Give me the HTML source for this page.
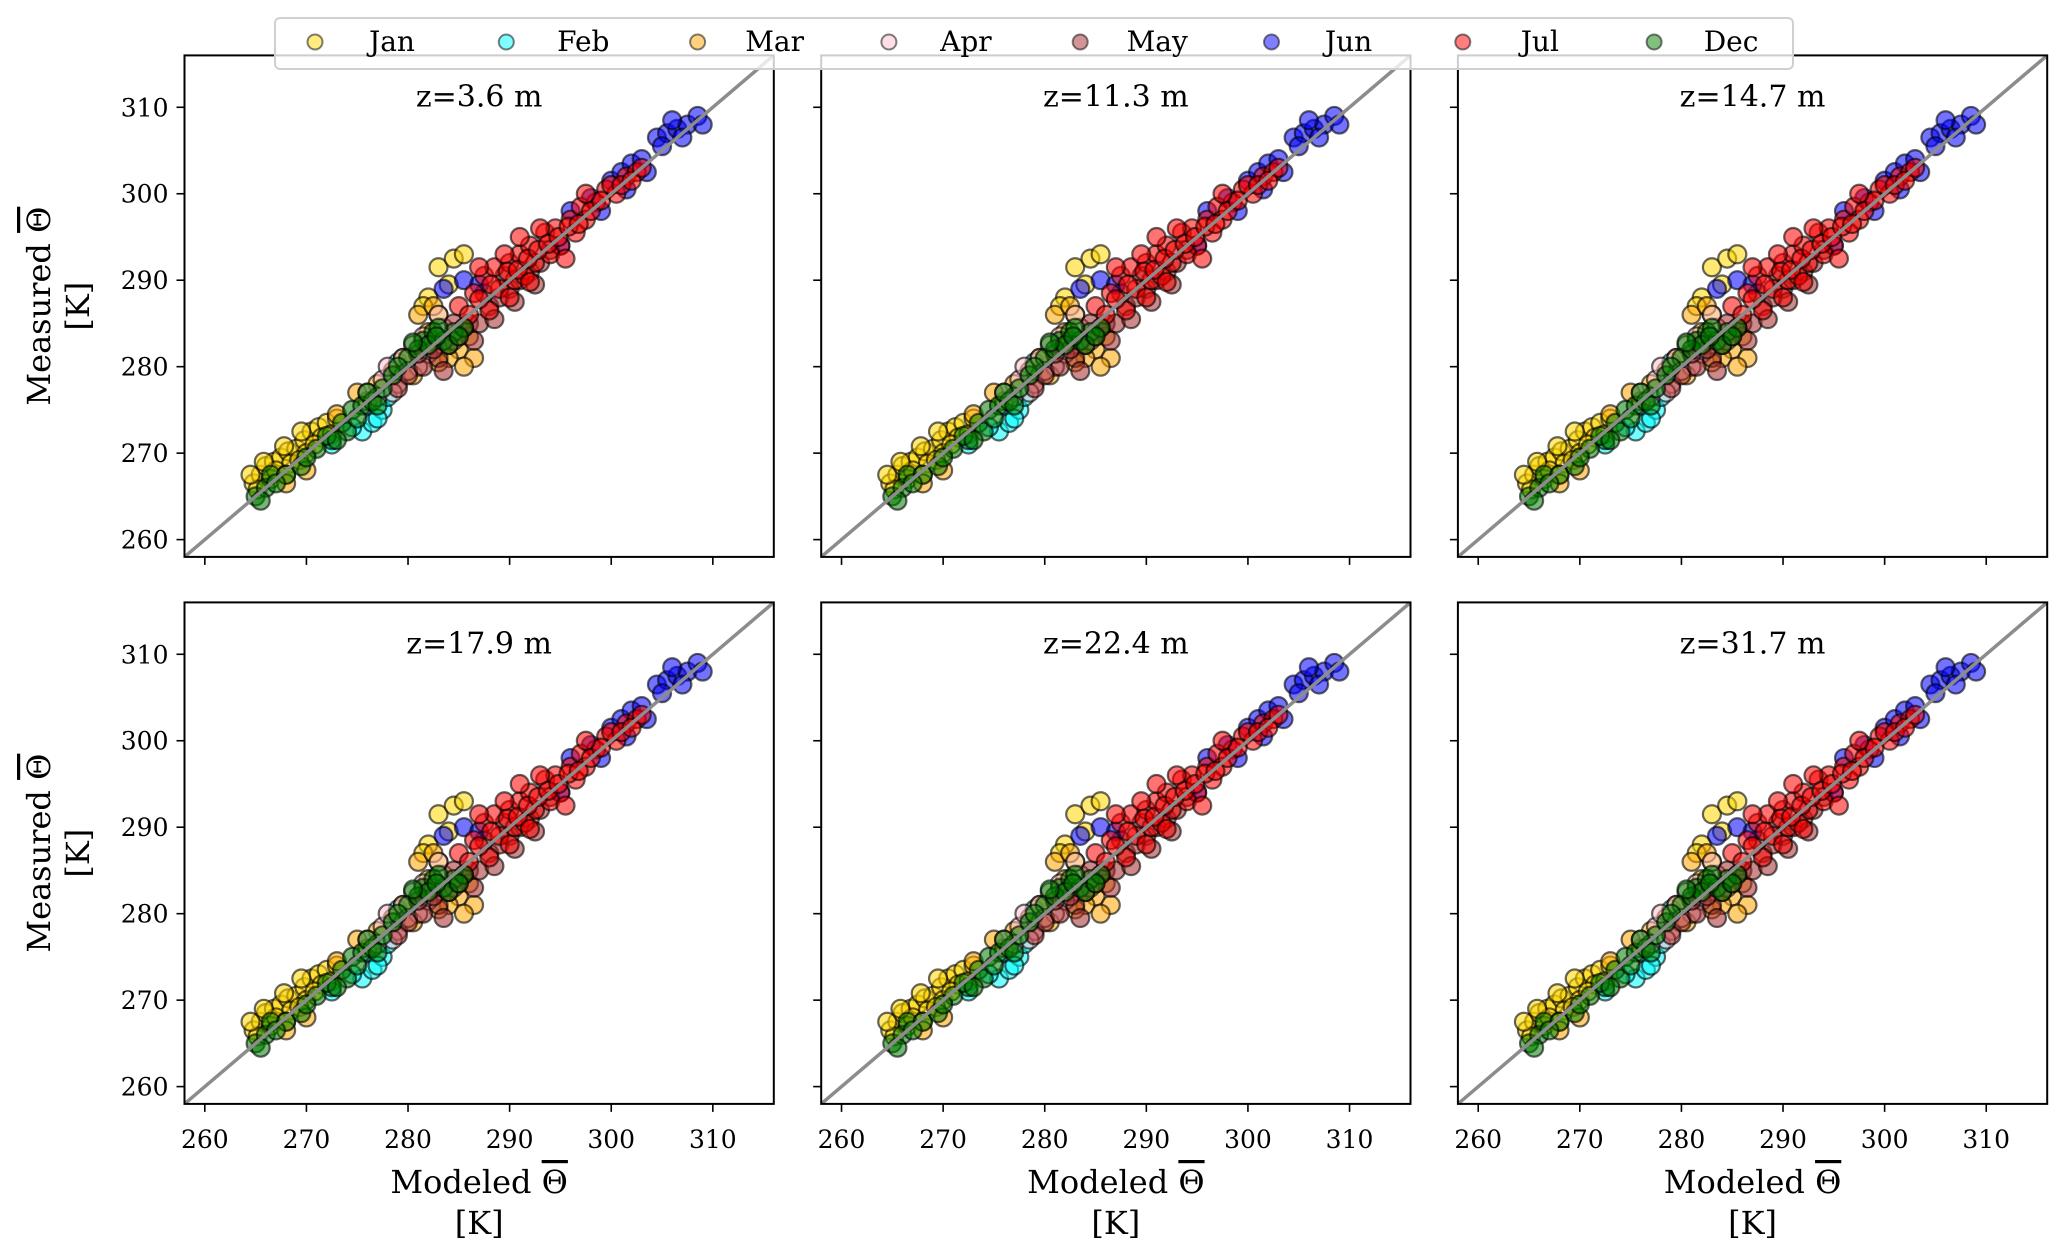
<!DOCTYPE html>
<html><head><meta charset="utf-8"><style>
html,body{margin:0;padding:0;background:#fff;}
svg{display:block;font-family:"DejaVu Serif","Liberation Serif",serif;}
</style></head><body>
<svg id="chart" width="2067" height="1257" viewBox="0 0 2067 1257"></svg>
<script>
const months = ["Jan","Feb","Mar","Apr","May","Jun","Jul","Dec"];
const monthColors = ["gold","cyan","orange","pink","brown","blue","red","green"];
const panelTitles = ["z=3.6 m","z=11.3 m","z=14.7 m","z=17.9 m","z=22.4 m","z=31.7 m"];
const tickValues = [260,270,280,290,300,310];
const axisMin = 258, axisMax = 316;
const janData = [[264.8,266.5],[265.5,267.5],[266,268.5],[266.8,269],[267.5,269.5],[268.2,270.2],[269,270.5],[269.8,271.5],[270.5,272.5],[271.2,273],[272,273.5],[268.5,268.8],[270,270],[271.5,271.8],[266.5,267],[283,291.5],[284.5,292.5],[282,288],[285.5,293],[265.2,265.8],[267,268],[268,267.5],[269.3,269.2],[270.8,271],[272.5,272.2],[273,274],[264.5,267.5],[265.8,269],[267.8,270.8],[269.5,272.5],[281.5,287],[284,289.5],[283,286]];
const febData = [[275.5,272.5],[276.5,273.5],[277.5,275],[278,276.5],[276,275.5],[279,280.5],[282,283],[272.5,271],[277,274],[274.5,273],[278.5,279]];
const marData = [[277,278],[278.5,279.5],[281,286],[282.5,287],[285,282],[284,281],[283,280.5],[280.5,279],[279.5,281],[286,283.5],[273,274.5],[275,277],[286.5,281],[285.5,280],[282,284],[270,268],[268,266.5],[276,276]];
const aprData = [[276,277],[277.5,278.5],[278,280],[279.5,281],[280.5,282.5],[281.5,283.5],[282.5,283],[283.5,284.5],[279,278],[281,280],[277,276.5],[280,279.5],[282,281.5],[278.5,277],[284.5,283],[283,286]];
const mayData = [[280,279],[281.5,280],[283,281],[284,282.5],[285,283.5],[286,285],[287,285],[288,287],[289,288],[290,289],[291,290],[292,291],[293,292],[282.5,282],[285.5,284.5],[287.5,288.5],[281,281.5],[283.5,279.5],[286.5,283],[288.5,285.5],[290.5,287.5],[292.5,289.5],[284.5,285],[289.5,290.5],[279,277.5],[294,293.5]];
const junData = [[283.5,289],[285.5,290],[287,289.5],[296,298],[298,299.5],[300,301.5],[301,302.5],[302,303.5],[303,304],[304.5,306.5],[305.5,307],[306.5,307.5],[307.5,308],[308.5,309],[307,306.5],[299,298],[301.5,300.5],[303.5,302.5],[305,305.5],[306,308.5],[309,308],[295,294]];
const julData = [[285,287],[286.5,288.5],[287.5,290.5],[288.5,291.5],[289,289],[290,292],[291,293],[292,294],[290.5,290],[292.5,292],[293.5,295.5],[294.5,296],[295,294],[296,297],[297,298.5],[297.5,297],[298.5,299],[299.5,300.5],[300.5,300],[301.5,302],[302.5,302.5],[288,286.5],[291.5,290.5],[294,293],[296.5,295.5],[289.5,293],[293,296],[286,286],[287,287.8],[288.2,289.5],[289.8,291],[290.8,291.2],[291.8,292.5],[292.8,293.5],[293.8,294.2],[294.8,295],[295.8,296.2],[296.8,296.5],[298,298],[299,299.2],[300,301],[301,301],[302,301.5],[303,303],[290,288],[292,289.8],[295.5,292.5],[287,291.5],[291,295],[297.5,300]];
const decData = [[265,265],[266,266],[266.5,267.5],[268,267.5],[269.5,268.5],[271,270.5],[272.5,271.5],[273.5,273.5],[274.5,275],[275.5,275.5],[276.5,276],[277.5,277.5],[278.5,279],[280,281],[281.5,283],[282.5,284],[283.5,283],[284.5,284],[285.5,284.5],[274,272.5],[265.5,264.5],[267,266.5],[270,269.5],[272,272],[273,271.5],[275,274],[276,277],[277,275.5],[279,280],[281,282],[282,282.5],[283,284.5],[284,282.5],[285,283.5],[280.5,282.8],[282.8,283.5]];
const seriesData = [janData,febData,marData,aprData,mayData,junData,julData,decData];

const NS="http://www.w3.org/2000/svg";
const svg=document.getElementById('chart');
function mk(tag,attrs,parent){const e=document.createElementNS(NS,tag);for(const k in attrs)e.setAttribute(k,attrs[k]);(parent||svg).appendChild(e);return e;}
const colX=[184.5,821.2,1457.9], rowY=[55.4,602.4], PW=589.3, PH=501.5;
const defs=mk('defs',{});
panelTitles.forEach((title,p)=>{
  const c=p%3,r=Math.floor(p/3);
  const L=colX[c],T=rowY[r];
  const sx=v=>L+(v-axisMin)/(axisMax-axisMin)*PW;
  const sy=v=>T+PH-(v-axisMin)/(axisMax-axisMin)*PH;
  const g=mk('g',{});
  
  
  const cp=mk('clipPath',{id:'cp'+p},defs);
  mk('rect',{x:L,y:T,width:PW,height:PH},cp);
  const pts=mk('g',{'clip-path':'url(#cp'+p+')'},g);
  seriesData.forEach((arr,m)=>{
    arr.forEach(d=>{
      const ci=mk('circle',{cx:sx(d[0]),cy:sy(d[1]),r:9,fill:monthColors[m],'fill-opacity':0.55,stroke:'#000','stroke-opacity':0.6,'stroke-width':2.2},pts);
      
      
    });
  });
  const dl=mk('line',{x1:sx(axisMin),y1:sy(axisMin),x2:sx(axisMax),y2:sy(axisMax),stroke:'#8c8c8c','stroke-width':3.5},pts);
  
  
  const fr=mk('rect',{x:L,y:T,width:PW,height:PH,fill:'none',stroke:'#000','stroke-width':2},g);
  
  
  tickValues.forEach(v=>{
    mk('line',{x1:sx(v),x2:sx(v),y1:T+PH,y2:T+PH+8,stroke:'#000','stroke-width':1.6},g);
    mk('line',{x1:L,x2:L-8,y1:sy(v),y2:sy(v),stroke:'#000','stroke-width':1.6},g);
    if(r===1){const t=mk('text',{x:sx(v),y:T+PH+44,'text-anchor':'middle','font-size':25},g);t.textContent=v;
      }
    if(c===0){const t=mk('text',{x:L-16,y:sy(v)+9,'text-anchor':'end','font-size':25},g);t.textContent=v;
      }
  });
  const tt=mk('text',{x:L+PW/2,y:T+51,'text-anchor':'middle','font-size':30},g);
  tt.textContent=title;
  
  
  if(c===0){
    const cy=T+PH/2;
    const yl=mk('text',{x:0,y:0,'text-anchor':'middle','font-size':32,transform:`translate(50,${cy}) rotate(-90)`},g);
    yl.innerHTML='Measured <tspan text-decoration="overline">Θ</tspan>';
    
    const yk=mk('text',{x:0,y:0,'text-anchor':'middle','font-size':32,transform:`translate(89,${cy}) rotate(-90)`},g);
    yk.textContent='[K]';
  }
  if(r===1){
    const xl=mk('text',{x:L+PW/2,y:1193,'text-anchor':'middle','font-size':32},g);
    xl.innerHTML='Modeled <tspan text-decoration="overline">Θ</tspan>';
    
    const xk=mk('text',{x:L+PW/2,y:1234,'text-anchor':'middle','font-size':32},g);
    xk.textContent='[K]';
  }
});
const lg=mk('g',{});


mk('rect',{x:275,y:18,width:1518,height:51,rx:5,fill:'#fff','fill-opacity':0.8,stroke:'#d0d0d0','stroke-width':2},lg);
months.forEach((m,i)=>{
  const x0=315+i*191.3;
  const e=mk('g',{},lg);
  
  
  mk('circle',{cx:x0,cy:42,r:7.5,fill:monthColors[i],'fill-opacity':0.5,stroke:'#000','stroke-opacity':0.5,'stroke-width':2},e);
  const t=mk('text',{x:x0+77,y:51,'text-anchor':'middle','font-size':28},e);
  t.textContent=m;
});
</script>
</body></html>
